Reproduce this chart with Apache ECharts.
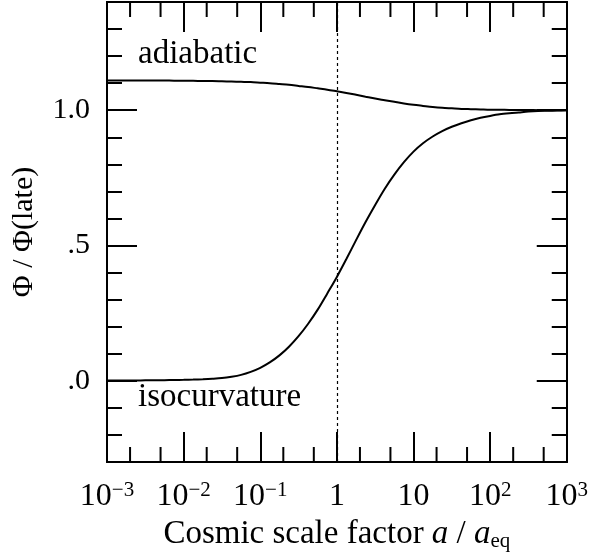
<!DOCTYPE html>
<html>
<head>
<meta charset="utf-8">
<script src="https://cdn.jsdelivr.net/npm/echarts@6/dist/echarts.min.js"></script>
<style>
html,body{margin:0;padding:0;background:#fff;}
#chart{width:591px;height:558px;}
</style>
</head>
<body>
<div id="chart"></div>
<script>
// ---- data ----
const scaleFactor = [0.001, 0.00133, 0.00178, 0.00237, 0.00316, 0.00422, 0.00562, 0.0075,
  0.01, 0.0133, 0.0178, 0.0237, 0.0316, 0.0422, 0.0562, 0.075,
  0.1, 0.133, 0.178, 0.237, 0.316, 0.422, 0.562, 0.75,
  1, 1.33, 1.78, 2.37, 3.16, 4.22, 5.62, 7.5,
  10, 13.3, 17.8, 23.7, 31.6, 42.2, 56.2, 75,
  100, 133, 178, 237, 316, 422, 562, 750, 1000];
const adiabatic = [1.110, 1.110, 1.110, 1.110, 1.110, 1.110, 1.110, 1.109,
  1.109, 1.109, 1.108, 1.108, 1.107, 1.106, 1.105, 1.104,
  1.102, 1.100, 1.097, 1.094, 1.090, 1.086, 1.081, 1.076,
  1.070, 1.064, 1.057, 1.050, 1.043, 1.037, 1.031, 1.025,
  1.020, 1.016, 1.012, 1.009, 1.007, 1.005, 1.004, 1.003,
  1.002, 1.002, 1.001, 1.001, 1.001, 1.000, 1.000, 1.000, 1.000];
const isocurvature = [0.0010, 0.0011, 0.0013, 0.0015, 0.0018, 0.0021, 0.0025, 0.0030,
  0.0037, 0.0046, 0.0058, 0.0075, 0.010, 0.015, 0.022, 0.033,
  0.048, 0.068, 0.094, 0.126, 0.165, 0.211, 0.263, 0.323,
  0.384, 0.450, 0.520, 0.587, 0.650, 0.710, 0.762, 0.808,
  0.847, 0.878, 0.903, 0.923, 0.939, 0.952, 0.963, 0.972,
  0.979, 0.985, 0.989, 0.992, 0.995, 0.997, 0.998, 0.999, 1.000];
const xTickLabels = [["10","−3"],["10","−2"],["10","−1"],["1",""],["10",""],["10","2"],["10","3"]];
const xMinorTicks = [0.002,0.005,0.02,0.05,0.2,0.5,2,5,20,50,200,500];
const yMajorTicks = [0, 0.5, 1.0];
const yTickLabels = [".0", ".5", "1.0"];
const yMinorTicks = [-0.2,-0.1,0.1,0.2,0.3,0.4,0.6,0.7,0.8,0.9,1.1,1.2,1.3];
const equalityEpoch = 1;

const FONT = 'Liberation Serif';
const BIG = 33, XLAB = 32, YLAB = 30, SMALL = 21;
const black = '#000';

function pair(a, b){ return [a, b]; }
const curveA = scaleFactor.map((x, i) => pair(x, adiabatic[i]));
const curveI = scaleFactor.map((x, i) => pair(x, isocurvature[i]));

const baseX = {
  type: 'log', logBase: 10, min: 0.001, max: 1000,
  axisLine: { show: true, onZero: false, lineStyle: { color: black, width: 2 } },
  axisTick: { show: true, inside: true, length: 30, lineStyle: { color: black, width: 2 } },
  minorTick: { show: false }, splitLine: { show: false }
};
function yAx(pos, ticks, len, labels) {
  return {
    type: 'value', min: -0.3, max: 1.4, position: pos,
    axisLine: { show: true, onZero: false, lineStyle: { color: black, width: 2 } },
    axisTick: { show: true, inside: true, length: len, customValues: ticks, lineStyle: { color: black, width: 2 } },
    axisLabel: labels ? {
      show: true, customValues: yMajorTicks, margin: 17,
      fontFamily: FONT, fontSize: YLAB, color: black,
      formatter: v => { const k = yMajorTicks.findIndex(t => Math.abs(t - v) < 1e-6); return k >= 0 ? yTickLabels[k] : ''; }
    } : { show: false },
    splitLine: { show: false }
  };
}

const chart = echarts.init(document.getElementById('chart'), null, { renderer: 'canvas' });
chart.setOption({
  animation: false,
  backgroundColor: '#fff',
  grid: { left: 107, top: 2, width: 460, height: 460 },
  xAxis: [
    Object.assign({}, baseX, {
      position: 'bottom',
      axisLabel: {
        show: true, margin: 18, color: black,
        formatter: v => {
          const k = Math.round(Math.log10(v)) + 3;
          const t = xTickLabels[k];
          if (!t) return '';
          return t[1] ? '{b|' + t[0] + '}{s|' + t[1] + '}' : '{b|' + t[0] + '}';
        },
        rich: {
          b: { fontFamily: FONT, fontSize: XLAB, lineHeight: 34, color: black },
          s: { fontFamily: FONT, fontSize: SMALL, lineHeight: 16, verticalAlign: 'top', color: black }
        }
      },
      name: '{r|Cosmic scale factor }{i|a}{r| / }{i|a}{sub|eq}',
      nameLocation: 'middle', nameGap: 50,
      nameTextStyle: {
        rich: {
          r: { fontFamily: FONT, fontSize: BIG, lineHeight: 36, color: black },
          i: { fontFamily: FONT, fontSize: BIG, fontStyle: 'italic', lineHeight: 36, color: black },
          sub: { fontFamily: FONT, fontSize: SMALL, lineHeight: 14, verticalAlign: 'bottom', color: black }
        }
      }
    }),
    Object.assign({}, baseX, { position: 'top', axisLabel: { show: false } })
  ],
  yAxis: [
    Object.assign(yAx('left', yMajorTicks, 30, true), {
      name: 'Φ / Φ(late)', nameLocation: 'middle', nameGap: 68,
      nameTextStyle: { fontFamily: FONT, fontSize: 30, color: black }
    }),
    yAx('left', yMinorTicks, 15, false),
    yAx('right', yMajorTicks, 30, false),
    yAx('right', yMinorTicks, 15, false)
  ],
  series: [
    {
      name: 'adiabatic', type: 'line', data: curveA, showSymbol: false, smooth: 0.3,
      lineStyle: { color: black, width: 2 }, z: 3,
      markLine: {
        silent: true, symbol: 'none', label: { show: false },
        lineStyle: { color: black, width: 1.2, type: [3, 3] },
        data: [{ xAxis: equalityEpoch }]
      }
    },
    {
      name: 'isocurvature', type: 'line', data: curveI, showSymbol: false, smooth: 0.3,
      lineStyle: { color: black, width: 2 }, z: 3
    },
    {
      name: 'minorTicks', type: 'custom', clip: false, silent: true,
      data: xMinorTicks.map(v => [v, 0]),
      renderItem: (params, api) => {
        const x = api.value(0);
        const b = api.coord([x, -0.3]);
        const t = api.coord([x, 1.4]);
        const st = { stroke: black, lineWidth: 2 };
        return { type: 'group', children: [
          { type: 'line', shape: { x1: b[0], y1: b[1], x2: b[0], y2: b[1] - 15 }, style: st },
          { type: 'line', shape: { x1: t[0], y1: t[1], x2: t[0], y2: t[1] + 15 }, style: st }
        ] };
      }
    },
    {
      name: 'labels', type: 'scatter', symbolSize: 0, silent: true,
      data: [
        { value: [0.00254, 1.205], label: { formatter: 'adiabatic' } },
        { value: [0.00254, -0.06], label: { formatter: 'isocurvature' } }
      ],
      label: { show: true, position: 'right', distance: 0, fontFamily: FONT, fontSize: BIG, color: black },
      itemStyle: { opacity: 1 }
    }
  ]
});
</script>
</body>
</html>
